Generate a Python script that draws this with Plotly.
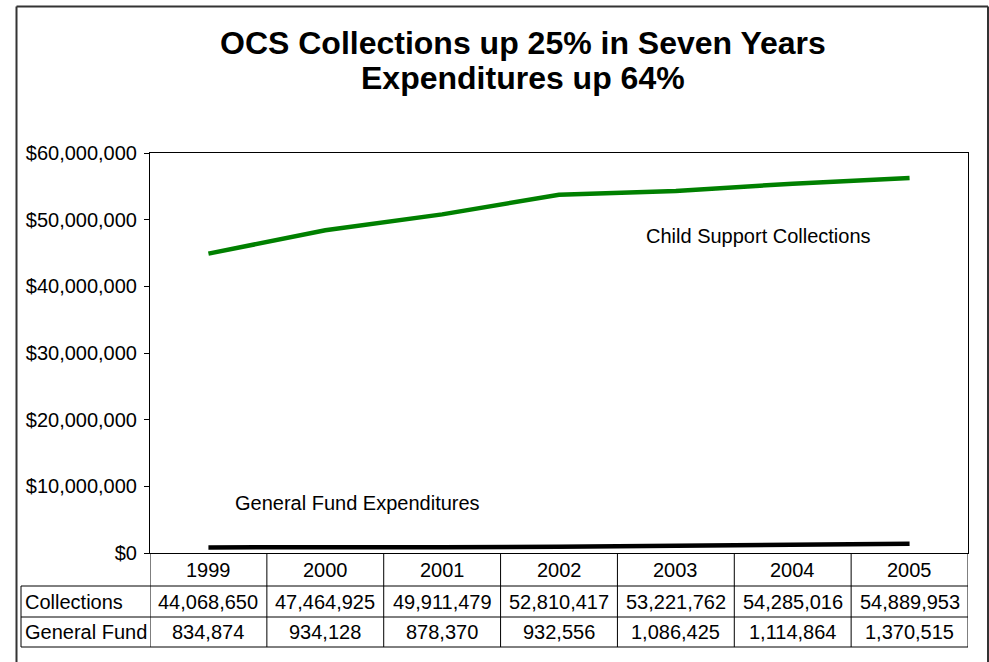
import plotly.graph_objects as go

# Fiscal years and the two series (dollars)
years = ["1999", "2000", "2001", "2002", "2003", "2004", "2005"]
collections = [44068650, 47464925, 49911479, 52810417, 53221762, 54285016, 54889953]
general_fund = [834874, 934128, 878370, 932556, 1086425, 1114864, 1370515]

row_labels = ["Collections", "General Fund"]
y_ticks = [0, 10000000, 20000000, 30000000, 40000000, 50000000, 60000000]
y_tick_text = [f"${v:,}" for v in y_ticks]
title_lines = ["OCS Collections up 25% in Seven Years", "Expenditures up 64%"]

FONT = "Arial, 'Liberation Sans', sans-serif"
W, H = 989, 662
L, R, T, B = 150, 21, 153, 109
PW, PH = W - L - R, H - T - B


def px_x(p):
    return (p - L) / PW


def px_y(p):
    return (H - B - p) / PH


fig = go.Figure()

# stacked lines: the collections line sits on top of general fund
fig.add_trace(go.Scatter(
    x=list(range(len(years))), y=general_fund, mode="lines", stackgroup="s", fill="none",
    line=dict(color="black", width=4.5), hoverinfo="skip", name="General Fund"))
fig.add_trace(go.Scatter(
    x=list(range(len(years))), y=collections, mode="lines", stackgroup="s", fill="none",
    line=dict(color="#008000", width=4.5), hoverinfo="skip", name="Collections"))

shapes = []
annotations = []
line_style = dict(color="black", width=1)

# data table under the chart
row_edges = [553, 586, 617, 647]
n = len(years)
for i in range(n + 1):
    shapes.append(dict(type="line", xref="x", yref="paper",
                       x0=i - 0.5, x1=i - 0.5, y0=px_y(row_edges[0]), y1=px_y(row_edges[-1]),
                       line=line_style))
for e in row_edges[1:]:
    shapes.append(dict(type="line", xref="paper", yref="paper",
                       x0=px_x(21), x1=1, y0=px_y(e), y1=px_y(e), line=line_style))
shapes.append(dict(type="line", xref="paper", yref="paper",
                   x0=px_x(21), x1=px_x(21), y0=px_y(row_edges[1]), y1=px_y(row_edges[-1]),
                   line=line_style))

txt_font = dict(family=FONT, size=20, color="black")


def cell(x, y, text, xref="x", xanchor="center", font=txt_font):
    annotations.append(dict(x=x, y=y, xref=xref, yref="paper", xanchor=xanchor,
                            yanchor="middle", text=text, showarrow=False, font=font))


for i, yr in enumerate(years):
    cell(i, px_y((row_edges[0] + row_edges[1]) / 2), yr)
    cell(i, px_y((row_edges[1] + row_edges[2]) / 2), f"{collections[i]:,}")
    cell(i, px_y((row_edges[2] + row_edges[3]) / 2), f"{general_fund[i]:,}")
for j, lab in enumerate(row_labels):
    cell(px_x(23), px_y((row_edges[j + 1] + row_edges[j + 2]) / 2), lab,
         xref="paper", xanchor="left")

# series labels inside the plot
cell(px_x(644), px_y(236), "Child Support Collections", xref="paper", xanchor="left")
cell(px_x(233), px_y(503), "General Fund Expenditures", xref="paper", xanchor="left")

# two-line bold title
title_font = dict(family=FONT, size=32, color="black")
for line, yc in zip(title_lines, [43, 78]):
    cell(px_x(523), px_y(yc), f"<b>{line}</b>", xref="paper", font=title_font)

# outer frame (open at the bottom)
frame = dict(color="#333333", width=2)
fx0, fx1, fy0, fy1 = px_x(16.5), px_x(988), px_y(6.5), px_y(700)
shapes += [
    dict(type="line", xref="paper", yref="paper", x0=fx0, x1=fx0, y0=fy1, y1=fy0, line=frame),
    dict(type="line", xref="paper", yref="paper", x0=fx0, x1=fx1, y0=fy0, y1=fy0, line=frame),
    dict(type="line", xref="paper", yref="paper", x0=fx1, x1=fx1, y0=fy1, y1=fy0, line=frame),
]

fig.update_layout(
    width=W, height=H,
    margin=dict(l=L, r=R, t=T, b=B),
    paper_bgcolor="white", plot_bgcolor="white",
    showlegend=False,
    shapes=shapes, annotations=annotations,
    xaxis=dict(range=[-0.5, n - 0.5], showticklabels=False, ticks="",
               showgrid=False, zeroline=False, showline=True, linecolor="black", linewidth=1,
               mirror=True),
    yaxis=dict(range=[0, 60000000], tickvals=y_ticks, ticktext=y_tick_text,
               ticks="outside", ticklen=5, tickcolor="black", showgrid=False, zeroline=False,
               showline=True, linecolor="black", linewidth=1, mirror=True,
               ticklabelstandoff=3,
               tickfont=dict(family=FONT, size=20, color="black")),
)

fig.write_html("out.html")
